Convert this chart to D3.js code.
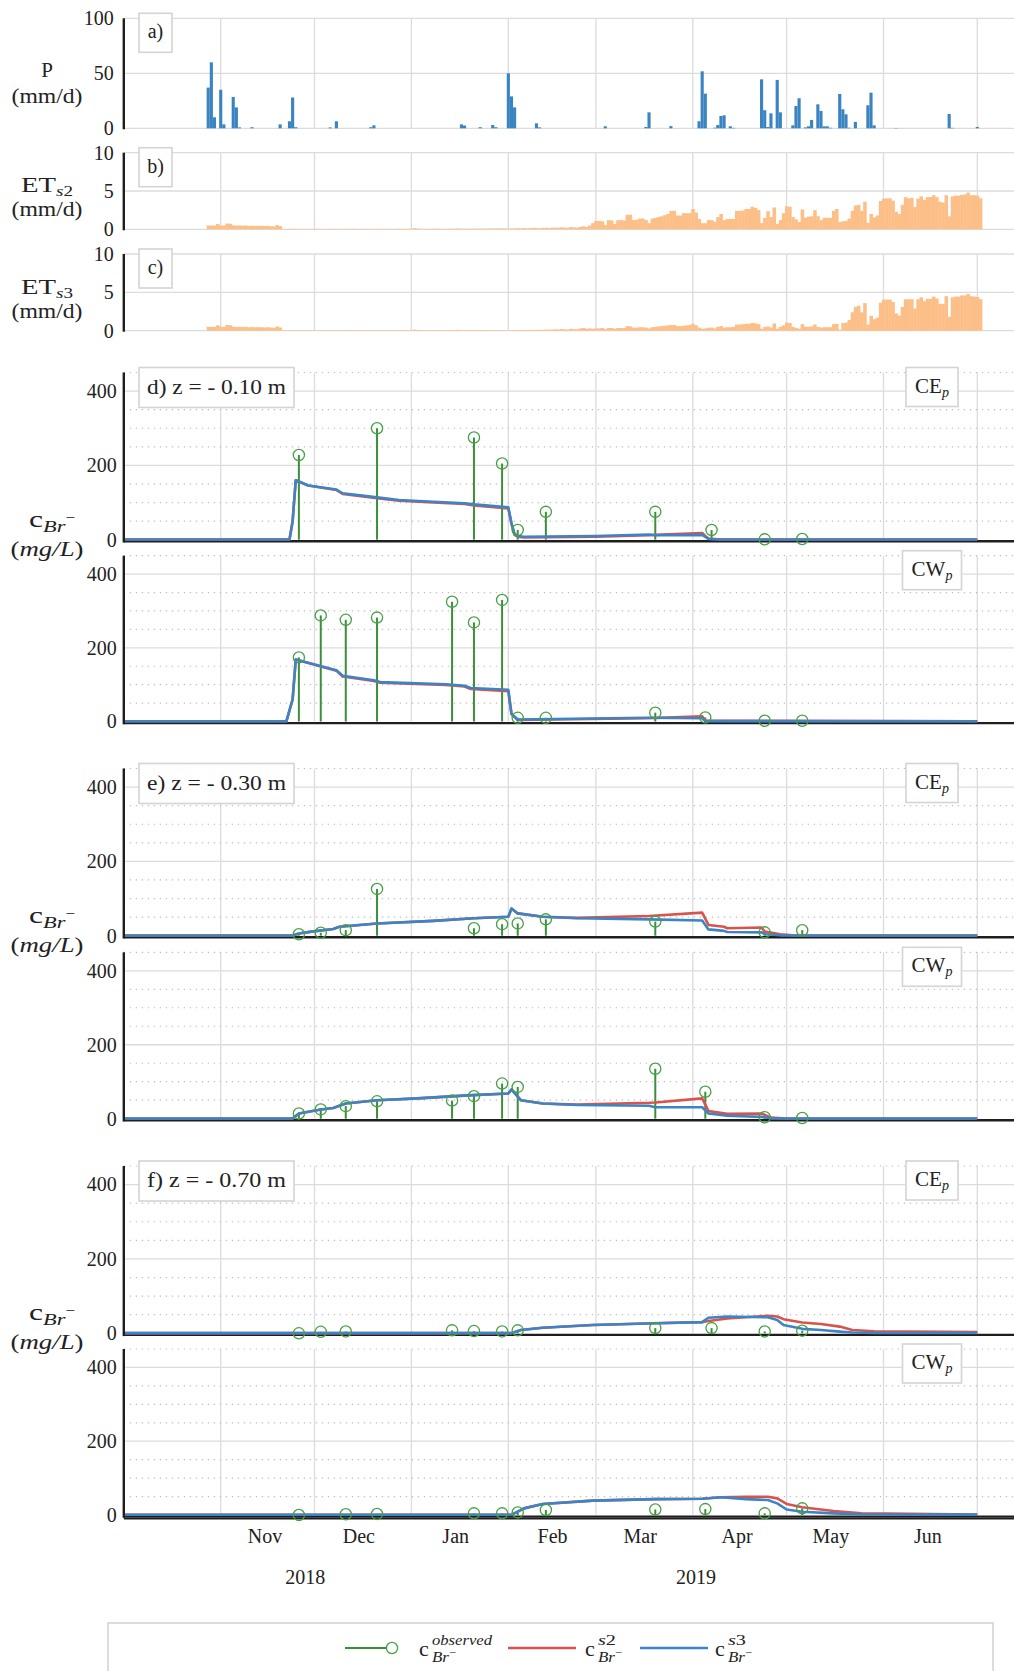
<!DOCTYPE html>
<html><head><meta charset="utf-8">
<script src="https://cdn.jsdelivr.net/npm/d3@7"></script>
<style>
body{margin:0;background:#fff;}
svg{display:block;overflow:hidden;}
</style></head><body>
<svg id="c" width="1014" height="1671"></svg>
<script>
// ---------------- DATA ----------------
const xStart = "2018-10-01", xEnd = "2019-07-01";
const monthLabelDates = ["2018-11-15","2018-12-15","2019-01-15","2019-02-15","2019-03-15","2019-04-15","2019-05-15","2019-06-15"];
const yearLabels = ["2018","2019"];
const yearLabelDates = ["2018-11-28","2019-04-02"];

const precipTicks = [0,50,100];
const etTicks = [0,5,10];
const concTicks = [0,200,400];
const concMinor = [50,100,150,250,300,350,450];

// daily precipitation (mm/d)
const precip = [
["2018-10-28",37],["2018-10-29",60],["2018-10-30",10],["2018-11-01",35],["2018-11-02",3.6],["2018-11-05",28.5],
["2018-11-06",19],["2018-11-07",0.8],["2018-11-11",1],["2018-11-20",3.6],["2018-11-23",6.4],["2018-11-24",28],
["2018-11-25",1],["2018-12-06",0.8],["2018-12-08",6.4],["2018-12-19",1],["2018-12-20",2.7],["2019-01-17",3.6],
["2019-01-18",2.5],["2019-01-23",1],["2019-01-27",3],["2019-01-28",1],["2019-02-01",50],["2019-02-02",29],
["2019-02-03",19],["2019-02-10",4.5],["2019-02-11",0.8],["2019-03-04",1.8],["2019-03-17",1.2],["2019-03-18",14.5],
["2019-03-25",2],["2019-04-03",6.4],["2019-04-04",51.8],["2019-04-05",31.5],["2019-04-08",0.5],["2019-04-09",3],
["2019-04-10",11.2],["2019-04-11",11.8],["2019-04-13",1.8],["2019-04-14",0.4],["2019-04-23",44.5],["2019-04-24",16.4],
["2019-04-25",1.2],["2019-04-26",13.6],["2019-04-28",44],["2019-04-29",14.5],["2019-05-03",2.7],["2019-05-04",20.3],
["2019-05-05",27.3],["2019-05-07",0.8],["2019-05-08",1.8],["2019-05-09",7.6],["2019-05-11",21.8],["2019-05-12",15.8],
["2019-05-13",1.8],["2019-05-14",1.8],["2019-05-15",0.5],["2019-05-18",31.2],["2019-05-19",17.3],["2019-05-20",12.7],
["2019-05-21",0.5],["2019-05-23",5.8],["2019-05-27",20.9],["2019-05-28",32.4],["2019-05-29",2.7],["2019-06-05",0.3],
["2019-06-22",13],["2019-06-23",0.4],["2019-07-01",1.2]
];

// daily evapotranspiration, starting at etStart, one value per day
const etStart = "2018-10-28";
const etAutumn = [
0.5,0.48,0.5,0.7,0.5,0.5,0.75,0.72,0.52,0.48,0.5,0.47,0.5,0.45,0.47,0.44,0.46,0.45,0.42,0.45,0.4,0.38,0.55,0.42,
0.05,0.04,0.05,0.06,0.05,0.04,0.05,0.05,0.04,0.05,
0.05,0.06,0.05,0.04,0.05,0.05,0.06,0.05,0.04,0.05,
0.05,0.05,0.06,0.05,0.04,0.05,0.06,0.05,0.05,0.04,
0.05,0.05,0.06,0.05,0.05,0.04,0.05,0.06,0.05,0.05,
0.06,0.08,0.15,0.08,0.06,0.05,0.06,0.05,0.06,0.07,
0.06,0.05,0.06,0.07,0.08,0.06,0.12,0.07,0.06,0.07,
0.08,0.07,0.08,0.09,0.08,0.1
];
const etS2Spring = [
0.1,0.1,0.12,0.1,0.12,0.1,0.08,0.1,0.12,0.15,
0.12,0.15,0.12,0.15,0.18,0.15,0.12,0.18,0.2,0.15,
0.2,0.22,0.2,0.25,0.22,0.2,0.3,0.25,0.22,0.3,
0.4,0.3,0.5,0.8,1.1,1.1,1.05,0.55,1.2,1.15,
0.7,1.2,1.2,1.15,1.9,1.9,1.2,1.25,1.4,1.4,
1.2,0.8,1.4,1.5,1.6,1.7,1.85,2.0,2.4,2.4,
1.8,1.8,2.1,2.1,2.1,2.65,2.2,1.35,0.8,0.8,
1.2,1.2,1.0,1.6,2.0,1.2,1.35,1.35,1.35,2.4,
2.4,2.45,2.65,2.65,2.95,2.8,2.5,0.8,1.5,2.35,
1.6,2.85,0.7,1.2,2.1,3.0,2.95,1.6,1.3,0.95,
2.6,1.5,1.65,1.7,2.5,1.7,1.2,1.5,1.5,1.5,
2.4,2.65,0.95,1.05,1.1,1.4,2.4,3.1,3.2,2.4,
3.6,0.85,2.0,1.55,1.8,3.7,4.0,4.05,4.05,3.75,
2.3,2.0,3.2,4.2,4.05,4.1,2.9,4.0,4.3,3.85,
4.2,4.2,4.45,4.2,3.6,3.5,4.45,1.7,4.3,4.4,
4.4,4.5,4.55,4.8,4.45,4.45,4.4,4.05
];
const etS3Spring = [
0.05,0.05,0.06,0.05,0.06,0.05,0.05,0.06,0.08,0.08,
0.08,0.1,0.08,0.1,0.1,0.12,0.1,0.12,0.15,0.12,
0.15,0.18,0.15,0.2,0.18,0.15,0.25,0.2,0.18,0.3,
0.35,0.25,0.3,0.25,0.3,0.3,0.35,0.2,0.35,0.35,
0.25,0.35,0.35,0.35,0.6,0.55,0.4,0.4,0.45,0.45,
0.4,0.3,0.45,0.5,0.55,0.6,0.65,0.7,0.75,0.75,
0.6,0.6,0.65,0.7,0.75,0.9,0.7,0.4,0.25,0.3,
0.4,0.4,0.3,0.5,0.6,0.4,0.45,0.45,0.5,0.8,
0.8,0.85,0.9,0.9,1.0,0.95,0.85,0.25,0.5,0.55,
0.4,0.95,0.25,0.5,0.7,1.05,1.0,0.5,0.35,0.25,
0.85,0.5,0.5,0.55,0.8,0.5,0.4,0.45,0.45,0.45,
0.85,0.9,0.15,1.0,1.05,1.4,2.4,3.1,3.25,2.4,
3.6,0.8,1.95,1.5,1.7,3.65,4.05,4.05,4.05,3.75,
2.25,1.95,3.1,4.1,4.1,4.1,2.9,4.1,4.35,3.85,
4.15,4.15,4.45,4.2,3.5,3.5,4.5,1.8,4.35,4.45,
4.45,4.6,4.6,4.8,4.5,4.45,4.4,4.1
];
const etS2 = etAutumn.concat(etS2Spring);
const etS3 = etAutumn.concat(etS3Spring);

// observed bromide concentrations (mg/L)
const obsD_CE = [["2018-11-26",228],["2018-12-21",300],["2019-01-21",275],["2019-01-30",205],["2019-02-04",26],["2019-02-13",75],["2019-03-20",75],["2019-04-07",26],["2019-04-24",1],["2019-05-06",2]];
const obsD_CW = [["2018-11-26",174],["2018-12-03",288],["2018-12-11",276],["2018-12-21",282],["2019-01-14",325],["2019-01-21",269],["2019-01-30",330],["2019-02-04",10],["2019-02-13",10],["2019-03-20",24],["2019-04-05",11],["2019-04-24",2],["2019-05-06",2]];
const obsE_CE = [["2018-11-26",4],["2018-12-03",8],["2018-12-11",15],["2018-12-21",126],["2019-01-21",20],["2019-01-30",31],["2019-02-04",33],["2019-02-13",44],["2019-03-20",38],["2019-04-24",9],["2019-05-06",15]];
const obsE_CW = [["2018-11-26",14],["2018-12-03",25],["2018-12-11",34],["2018-12-21",47],["2019-01-14",49],["2019-01-21",61],["2019-01-30",95],["2019-02-04",86],["2019-03-20",135],["2019-04-05",73],["2019-04-24",4],["2019-05-06",2]];
const obsF_CE = [["2018-11-26",0],["2018-12-03",4],["2018-12-11",5],["2019-01-14",8],["2019-01-21",6],["2019-01-30",5],["2019-02-04",8],["2019-03-20",14],["2019-04-07",14],["2019-04-24",5],["2019-05-06",7]];
const obsF_CW = [["2018-11-26",0],["2018-12-11",2],["2018-12-21",3],["2019-01-21",4.5],["2019-01-30",4.5],["2019-02-04",7],["2019-02-13",13.5],["2019-03-20",15],["2019-04-05",16],["2019-04-24",4.5],["2019-05-06",18]];

// simulated concentrations, scenario s2 and s3
const s2D_CE = [["2018-10-01",0.5],["2018-11-23",0.5],["2018-11-24",50],["2018-11-25",160],["2018-11-29",146],["2018-12-08",134],["2018-12-10",123],["2018-12-21",112],["2018-12-28",105],["2019-01-08",100],["2019-01-18",96],["2019-01-21",92],["2019-02-01",84],["2019-02-02",42],["2019-02-03",13],["2019-02-04",8],["2019-02-06",6],["2019-03-01",8],["2019-03-18",12],["2019-03-20",13],["2019-04-04",18],["2019-04-05",10],["2019-04-06",3],["2019-04-10",0.5],["2019-07-01",0.5]];
const s3D_CE = [["2018-10-01",0.5],["2018-11-23",0.5],["2018-11-24",50],["2018-11-25",160],["2018-11-29",146],["2018-12-08",135],["2018-12-10",125],["2018-12-21",114],["2018-12-28",107],["2019-01-08",102],["2019-01-18",98],["2019-01-21",95],["2019-02-01",87],["2019-02-02",45],["2019-02-03",15],["2019-02-04",10],["2019-02-06",8],["2019-03-01",10],["2019-03-18",14],["2019-03-20",12],["2019-04-04",13],["2019-04-06",2],["2019-04-10",0.5],["2019-07-01",0.5]];
const s2D_CW = [["2018-10-01",0.5],["2018-11-22",0.5],["2018-11-24",60],["2018-11-25",168],["2018-12-08",138],["2018-12-10",122],["2018-12-20",110],["2018-12-22",105],["2019-01-12",99],["2019-01-18",95],["2019-01-20",88],["2019-02-01",82],["2019-02-02",20],["2019-02-04",4],["2019-03-17",9],["2019-04-04",14],["2019-04-05",2],["2019-07-01",0.5]];
const s3D_CW = [["2018-10-01",0.5],["2018-11-22",0.5],["2018-11-24",60],["2018-11-25",168],["2018-12-08",139],["2018-12-10",124],["2018-12-20",112],["2018-12-22",107],["2019-01-12",101],["2019-01-18",97],["2019-01-20",91],["2019-02-01",86],["2019-02-02",21],["2019-02-04",5.5],["2019-03-17",10],["2019-04-04",9],["2019-04-05",1],["2019-07-01",0.5]];
const s2E_CE = [["2018-10-01",0.5],["2018-11-24",0.5],["2018-11-26",6],["2018-11-30",11],["2018-12-07",18],["2018-12-09",24],["2018-12-21",33],["2019-01-08",40],["2019-01-21",47],["2019-02-01",51],["2019-02-02",73],["2019-02-04",60],["2019-02-12",51],["2019-02-23",48],["2019-03-18",53],["2019-04-04",62],["2019-04-06",29],["2019-04-11",24],["2019-04-12",20],["2019-04-23",22],["2019-04-24",11],["2019-04-29",4],["2019-05-03",1],["2019-07-01",0.5]];
const s3E_CE = [["2018-10-01",0.5],["2018-11-24",0.5],["2018-11-26",6],["2018-11-30",11],["2018-12-07",18],["2018-12-09",24],["2018-12-21",33],["2019-01-08",40],["2019-01-21",47],["2019-02-01",51],["2019-02-02",73],["2019-02-04",60],["2019-02-12",51],["2019-02-23",47],["2019-03-18",44],["2019-04-04",41],["2019-04-06",17],["2019-04-11",13],["2019-04-12",10],["2019-04-23",9],["2019-04-24",4],["2019-04-29",1],["2019-07-01",0.5]];
const s2E_CW = [["2018-10-01",0.5],["2018-11-24",0.5],["2018-11-26",14],["2018-12-03",25],["2018-12-07",29],["2018-12-11",41],["2018-12-21",50],["2019-01-03",55],["2019-01-19",63],["2019-02-01",68],["2019-02-02",79],["2019-02-05",50],["2019-02-12",41],["2019-02-23",38],["2019-03-18",43],["2019-03-20",44],["2019-04-04",55],["2019-04-06",21],["2019-04-12",13],["2019-04-23",14],["2019-04-26",3],["2019-05-01",0.5],["2019-07-01",0.5]];
const s3E_CW = [["2018-10-01",0.5],["2018-11-24",0.5],["2018-11-26",14],["2018-12-03",25],["2018-12-07",29],["2018-12-11",41],["2018-12-21",50],["2019-01-03",55],["2019-01-19",63],["2019-02-01",68],["2019-02-02",79],["2019-02-05",50],["2019-02-12",41],["2019-02-23",37],["2019-03-18",35],["2019-03-20",31],["2019-04-04",31],["2019-04-06",14],["2019-04-12",8],["2019-04-23",5],["2019-04-26",1],["2019-07-01",0.5]];
const s2F_CE = [["2018-10-01",0.5],["2019-02-02",0.5],["2019-02-05",9],["2019-02-12",15],["2019-02-28",22.5],["2019-03-20",27],["2019-04-04",30],["2019-04-06",33],["2019-04-12",40],["2019-04-25",47],["2019-04-28",45],["2019-04-30",38],["2019-05-06",29],["2019-05-12",25],["2019-05-18",18],["2019-05-22",9],["2019-05-29",5.4],["2019-07-01",3.6]];
const s3F_CE = [["2018-10-01",0.5],["2019-02-02",0.5],["2019-02-05",9],["2019-02-12",15],["2019-02-28",22.5],["2019-03-20",27],["2019-04-04",30],["2019-04-06",42],["2019-04-12",45],["2019-04-25",43],["2019-04-28",36],["2019-04-30",22.5],["2019-05-06",12],["2019-05-12",9],["2019-05-18",4.5],["2019-05-22",2],["2019-05-29",1],["2019-07-01",1]];
const s2F_CW = [["2018-10-01",0.5],["2019-02-02",0.5],["2019-02-06",18],["2019-02-12",30],["2019-02-28",39],["2019-03-20",43],["2019-04-04",44],["2019-04-10",48],["2019-04-18",49.5],["2019-04-25",49.5],["2019-04-28",45],["2019-05-01",30],["2019-05-06",21],["2019-05-16",11],["2019-05-25",4.5],["2019-07-01",1]];
const s3F_CW = [["2018-10-01",0.5],["2019-02-02",0.5],["2019-02-06",18],["2019-02-12",30],["2019-02-28",39],["2019-03-20",43],["2019-04-04",44],["2019-04-10",48],["2019-04-18",43],["2019-04-25",40.5],["2019-04-28",31.5],["2019-05-01",15],["2019-05-06",9],["2019-05-16",4.5],["2019-05-25",2],["2019-07-01",1]];

const depthLabels = ["d) z = - 0.10 m","e) z = - 0.30 m","f) z = - 0.70 m"];
const plotLabels = ["CE","CW"];

// ---------------- DRAWING ----------------
const FONT = '"Liberation Serif","DejaVu Serif",serif';
const TXT = "#222";
const GRID = "#dcdcdc";
const BLUE = "#3d84c6", RED = "#d9534c", GREEN = "#3a8f3a", GREEN_C = "#45a045";
const PBAR = "#3a84c1", ET_COL = "#fdbf88";
const W = 1014, X0 = 123.8;
const parse = d3.timeParse("%Y-%m-%d");
const svg = d3.select("#c").attr("font-family", FONT);

const x = d3.scaleTime().domain([parse(xStart), parse(xEnd)]).range([X0, 977.3]);
const DAY = x(parse("2018-11-02")) - x(parse("2018-11-01"));
const monthStarts = d3.timeMonth.range(parse("2018-11-01"), d3.timeDay.offset(parse(xEnd), 1));

function stretch(sel, len) {
  return sel.attr("textLength", len).attr("lengthAdjust", "spacingAndGlyphs");
}
function frame(y, opts) {
  const [yb, yt] = y.range();
  const g = svg.append("g");
  g.selectAll(null).data(monthStarts).join("line")
    .attr("x1", d => x(d)).attr("x2", d => x(d)).attr("y1", yt).attr("y2", yb)
    .attr("stroke", GRID).attr("stroke-width", 1.3);
  g.selectAll(null).data(opts.minor || []).join("line")
    .attr("x1", X0).attr("x2", W).attr("y1", d => y(d)).attr("y2", d => y(d))
    .attr("stroke", "#bdbdbd").attr("stroke-width", 1.2).attr("stroke-dasharray", "1.3 4.7");
  g.selectAll(null).data(opts.major).join("line")
    .attr("x1", X0).attr("x2", W).attr("y1", d => y(d)).attr("y2", d => y(d))
    .attr("stroke", GRID).attr("stroke-width", 1.3);
  const ax = svg.append("g").attr("transform", `translate(${X0},0)`)
    .call(d3.axisLeft(y).tickValues(opts.ticks).tickSize(0).tickPadding(opts.pad).tickFormat(d3.format("d")));
  ax.select(".domain").remove();
  ax.attr("font-family", FONT).attr("font-size", 20);
  ax.selectAll("text").attr("fill", TXT);
  return g;
}
function spine(y0, y1) {
  svg.append("line").attr("x1", X0).attr("x2", X0).attr("y1", y0).attr("y2", y1)
    .attr("stroke", "#1e1e1e").attr("stroke-width", 2.4);
}
function box(x0, y0, w, h) {
  svg.append("rect").attr("x", x0).attr("y", y0).attr("width", w).attr("height", h)
    .attr("fill", "#fff").attr("stroke", "#d4d4d4").attr("stroke-width", 1.6);
}
function smallBox(label, top) {
  box(139, top - 5, 33, 39);
  svg.append("text").attr("x", 155.5).attr("y", top + 20).attr("text-anchor", "middle")
    .attr("font-size", 20).attr("fill", TXT).text(label);
}
function unitLabel(yb) {
  stretch(svg.append("text").attr("x", 47).attr("y", yb).attr("text-anchor", "middle")
    .attr("font-size", 21).attr("fill", TXT).text("(mm/d)"), 71);
}

// ----- panel a : precipitation
const yP = d3.scaleLinear().domain([0, 100]).range([128.3, 18.3]);
frame(yP, {major: precipTicks, ticks: precipTicks, pad: 10});
svg.append("g").selectAll("rect").data(precip).join("rect")
  .attr("x", d => x(parse(d[0])) - DAY / 2).attr("width", DAY)
  .attr("y", d => yP(d[1])).attr("height", d => yP(0) - yP(d[1])).attr("fill", PBAR);
spine(yP(100), yP(0) + 1);
smallBox("a)", 18.3);
svg.append("text").attr("x", 47).attr("y", 77).attr("text-anchor", "middle").attr("font-size", 21).attr("fill", TXT).text("P");
unitLabel(103);

// ----- panels b, c : ET
function etPanel(vals, y, sub, label, top, ly) {
  frame(y, {major: etTicks, ticks: etTicks, pad: 10});
  const st = parse(etStart);
  svg.append("g").selectAll("rect").data(vals).join("rect")
    .attr("x", (d, i) => x(d3.timeDay.offset(st, i)) - DAY / 2).attr("width", DAY + 0.4)
    .attr("y", d => y(d)).attr("height", d => y(0) - y(d)).attr("fill", ET_COL);
  spine(y(10), y(0) + 1);
  smallBox(label, top);
  const t = svg.append("text").attr("x", 47).attr("y", ly).attr("text-anchor", "middle").attr("font-size", 21).attr("fill", TXT);
  t.append("tspan").text("ET");
  t.append("tspan").attr("font-size", 14).attr("font-style", "italic").attr("dy", 4).text("s");
  t.append("tspan").attr("font-size", 14).text(sub);
  stretch(t, 52);
  unitLabel(ly + 24);
}
etPanel(etS2, d3.scaleLinear().domain([0, 10]).range([229.3, 152.7]), "2", "b)", 152.7, 192);
etPanel(etS3, d3.scaleLinear().domain([0, 10]).range([330.7, 254]), "3", "c)", 254, 294);

// ----- concentration panels
const concPanels = [
  {zero: 539.7, top: 372.5, obs: obsD_CE, s2: s2D_CE, s3: s3D_CE, tag: 0, depth: 0},
  {zero: 721.5, top: 555.7, obs: obsD_CW, s2: s2D_CW, s3: s3D_CW, tag: 1, depth: 0},
  {zero: 935.7, top: 768.5, obs: obsE_CE, s2: s2E_CE, s3: s3E_CE, tag: 0, depth: 1},
  {zero: 1118.7, top: 952.3, obs: obsE_CW, s2: s2E_CW, s3: s3E_CW, tag: 1, depth: 1},
  {zero: 1333.3, top: 1166, obs: obsF_CE, s2: s2F_CE, s3: s3F_CE, tag: 0, depth: 2},
  {zero: 1515, top: 1349, obs: obsF_CW, s2: s2F_CW, s3: s3F_CW, tag: 1, depth: 2}
];

concPanels.forEach((p, idx) => {
  const y = d3.scaleLinear().domain([0, 450]).range([p.zero, p.top]);
  frame(y, {major: [200, 400], minor: concMinor, ticks: concTicks, pad: 7});
  svg.append("line").attr("x1", X0).attr("x2", W).attr("y1", y(0) + 1.6).attr("y2", y(0) + 1.6)
    .attr("stroke", "#1e1e1e").attr("stroke-width", 2.4);
  if (idx === concPanels.length - 1) {
    svg.append("line").attr("x1", X0).attr("x2", W).attr("y1", y(0) + 3.6).attr("y2", y(0) + 3.6)
      .attr("stroke", "#1e1e1e").attr("stroke-width", 1.6);
  }
  svg.append("g").selectAll("line").data(p.obs).join("line")
    .attr("x1", d => x(parse(d[0]))).attr("x2", d => x(parse(d[0])))
    .attr("y1", y(0)).attr("y2", d => y(d[1]))
    .attr("stroke", GREEN).attr("stroke-width", 2);
  const line = d3.line().x(d => x(parse(d[0]))).y(d => y(d[1]));
  svg.append("path").datum(p.s2).attr("d", line).attr("fill", "none")
    .attr("stroke", RED).attr("stroke-width", 2.6).attr("stroke-linejoin", "round");
  svg.append("path").datum(p.s3).attr("d", line).attr("fill", "none")
    .attr("stroke", BLUE).attr("stroke-width", 2.6).attr("stroke-linejoin", "round");
  svg.append("g").selectAll("circle").data(p.obs).join("circle")
    .attr("cx", d => x(parse(d[0]))).attr("cy", d => y(d[1])).attr("r", 5.6)
    .attr("fill", "none").attr("stroke", GREEN_C).attr("stroke-width", 1.3);
  spine(p.top, y(0) + 2.8);
  const bw = p.tag === 0 ? 52 : 59;
  box(932 - bw / 2, p.top - 5, bw, 39);
  const t = svg.append("text").attr("x", 932).attr("y", p.top + 20).attr("text-anchor", "middle")
    .attr("font-size", 21).attr("fill", TXT);
  t.append("tspan").text(plotLabels[p.tag]);
  t.append("tspan").attr("font-size", 14).attr("font-style", "italic").attr("dy", 4).text("p");
  if (p.tag === 0) {
    box(139, p.top - 5, 155, 40);
    stretch(svg.append("text").attr("x", 147).attr("y", p.top + 21).attr("font-size", 21).attr("fill", TXT)
      .attr("xml:space", "preserve").text(depthLabels[p.depth]), 139);
    const c = svg.append("text").attr("x", 52).attr("y", p.zero - 13).attr("text-anchor", "middle")
      .attr("font-size", 24).attr("fill", TXT);
    c.append("tspan").text("c");
    c.append("tspan").attr("font-size", 17).attr("font-style", "italic").attr("dy", 5).text("Br");
    c.append("tspan").attr("font-size", 13).attr("dy", -10).text("−");
    stretch(c, 46);
    const u = svg.append("text").attr("x", 47).attr("y", p.zero + 16).attr("text-anchor", "middle")
      .attr("font-size", 22).attr("fill", TXT);
    u.append("tspan").text("(");
    u.append("tspan").attr("font-style", "italic").text("mg/L");
    u.append("tspan").text(")");
    stretch(u, 73);
  }
});

// ----- bottom x axis (month labels) and years
const xa = svg.append("g").attr("transform", "translate(0,1515)")
  .call(d3.axisBottom(x).tickValues(monthLabelDates.map(parse)).tickFormat(d3.timeFormat("%b")).tickSize(0).tickPadding(14));
xa.select(".domain").remove();
xa.attr("font-family", FONT).attr("font-size", 20);
xa.selectAll("text").attr("fill", TXT);
svg.append("g").selectAll("text").data(yearLabels).join("text")
  .attr("x", (d, i) => x(parse(yearLabelDates[i]))).attr("y", 1584).attr("text-anchor", "middle")
  .attr("font-size", 20).attr("fill", TXT).text(d => d);

// ----- legend
box(108, 1623, 885, 70);
const LY = 1648;
svg.append("line").attr("x1", 345).attr("x2", 387).attr("y1", LY).attr("y2", LY).attr("stroke", GREEN).attr("stroke-width", 2);
svg.append("circle").attr("cx", 392).attr("cy", LY).attr("r", 5.6).attr("fill", "none").attr("stroke", GREEN_C).attr("stroke-width", 1.3);
svg.append("line").attr("x1", 508).attr("x2", 576).attr("y1", LY).attr("y2", LY).attr("stroke", RED).attr("stroke-width", 2.6);
svg.append("line").attr("x1", 640).attr("x2", 708).attr("y1", LY).attr("y2", LY).attr("stroke", BLUE).attr("stroke-width", 2.6);
function legLabel(x0, supParts, supLen) {
  svg.append("text").attr("x", x0).attr("y", 1656).attr("font-size", 22).attr("fill", TXT).text("c");
  const s = svg.append("text").attr("x", x0 + 13).attr("y", 1645).attr("font-size", 15).attr("fill", TXT);
  supParts.forEach(p => s.append("tspan").attr("font-style", p[1] ? "italic" : "normal").text(p[0]));
  stretch(s, supLen);
  const b = svg.append("text").attr("x", x0 + 13).attr("y", 1662).attr("font-size", 15).attr("fill", TXT);
  b.append("tspan").attr("font-style", "italic").text("Br");
  b.append("tspan").attr("font-size", 11).attr("dy", -6).text("−");
  stretch(b, 24);
}
legLabel(419, [["observed", true]], 60);
legLabel(585, [["s", true], ["2", false]], 18);
legLabel(715, [["s", true], ["3", false]], 18);
</script></body></html>
